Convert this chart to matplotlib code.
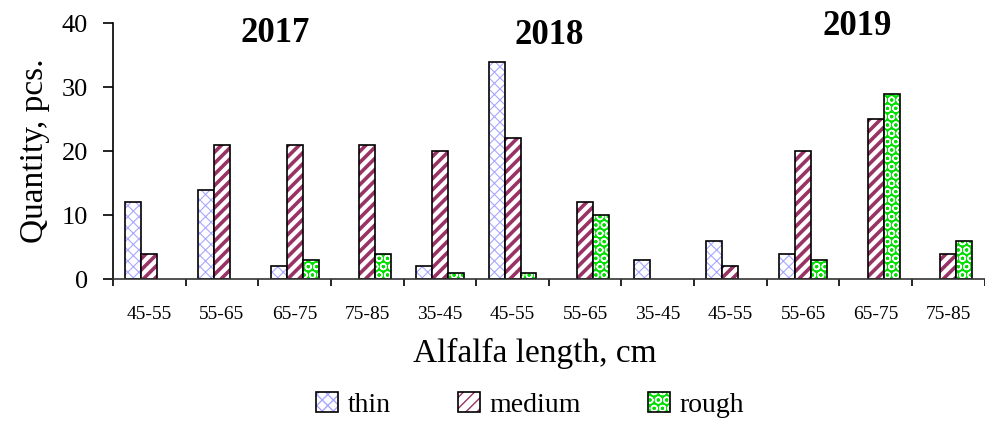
import numpy as np
import matplotlib
matplotlib.use("Agg")
from matplotlib import pyplot as plt

# data
labels = ["45-55", "55-65", "65-75", "75-85",
          "35-45", "45-55", "55-65",
          "35-45", "45-55", "55-65", "65-75", "75-85"]
thin = [12, 14, 2, 0, 2, 34, 0, 3, 6, 4, 0, 0]
medium = [4, 21, 21, 21, 20, 22, 12, 0, 2, 20, 25, 4]
rough = [0, 0, 3, 4, 1, 1, 10, 0, 0, 3, 29, 6]
years = ["2017", "2018", "2019"]
year_pos = [(1.73, 38.4), (5.51, 38.1), (9.75, 39.4)]

plt.rcParams["font.family"] = ["Liberation Serif", "DejaVu Serif"]
plt.rcParams["hatch.linewidth"] = 1.0

fig = plt.figure(figsize=(9.85, 4.21), dpi=100)
ax = fig.add_axes([0.1147, 0.337, 0.885, 0.608])

x = np.arange(len(labels))
w = 0.22
series = [
    (thin, -w, "white", "#a8a8ff", "xxx", 0.8, "thin"),
    (medium, 0.0, "white", "#993366", "///", 2.6, "medium"),
    (rough, w, "#00e000", "white", "OO", 1.0, "rough"),
]


def set_hlw(patches, lw):
    for p in patches:
        if hasattr(p, "set_hatch_linewidth"):
            p.set_hatch_linewidth(lw)


handles = []
names = []
for vals, off, fc, hc, hatch, hlw, name in series:
    vals = np.array(vals, dtype=float)
    vals[vals == 0] = np.nan
    bars = ax.bar(x + off, vals, w, color=fc, edgecolor=hc, hatch=hatch, linewidth=0)
    set_hlw(bars, hlw)
    ax.bar(x + off, vals, w, fill=False, edgecolor="black", linewidth=1.2)
    fill = plt.Rectangle((0, 0), 1, 1, facecolor=fc, edgecolor=hc, hatch=hatch, linewidth=0)
    set_hlw([fill], hlw)
    edge = plt.Rectangle((0, 0), 1, 1, fill=False, edgecolor="black", linewidth=1.2)
    handles.append((fill, edge))
    names.append(name)

ax.set_xlim(-0.5, len(labels) - 0.5)
ax.set_ylim(0, 40)
ax.set_yticks([0, 10, 20, 30, 40])
ax.tick_params(axis="y", labelsize=19, length=7, width=1.2, pad=11)
ax.set_xticks(x)
ax.set_xticklabels(labels, fontsize=14)
ax.set_xticks(np.arange(len(labels) + 1) - 0.5, minor=True)
ax.tick_params(axis="x", which="major", length=0, pad=19)
ax.tick_params(axis="x", which="minor", length=5, width=1.2)

for s in ["top", "right"]:
    ax.spines[s].set_visible(False)
ax.spines["left"].set_linewidth(1.2)
ax.spines["bottom"].set_linewidth(1.2)
ax.spines["bottom"].set_color("#333333")

for yr, (px, py) in zip(years, year_pos):
    ax.text(px, py, yr, fontsize=25, fontweight="bold", ha="center", va="center")

ax.set_ylabel("Quantity, pcs.", fontsize=24, labelpad=8)
fig.text(0.543, 0.161, "Alfalfa length, cm", fontsize=24, ha="center", va="center")

fig.legend(handles=handles, labels=names, loc="center", bbox_to_anchor=(0.538, 0.038),
           ncol=3, frameon=False, fontsize=20, handlelength=0.8, handleheight=0.75,
           handletextpad=0.35, columnspacing=2.4)

fig.savefig("out.png", dpi=100)
